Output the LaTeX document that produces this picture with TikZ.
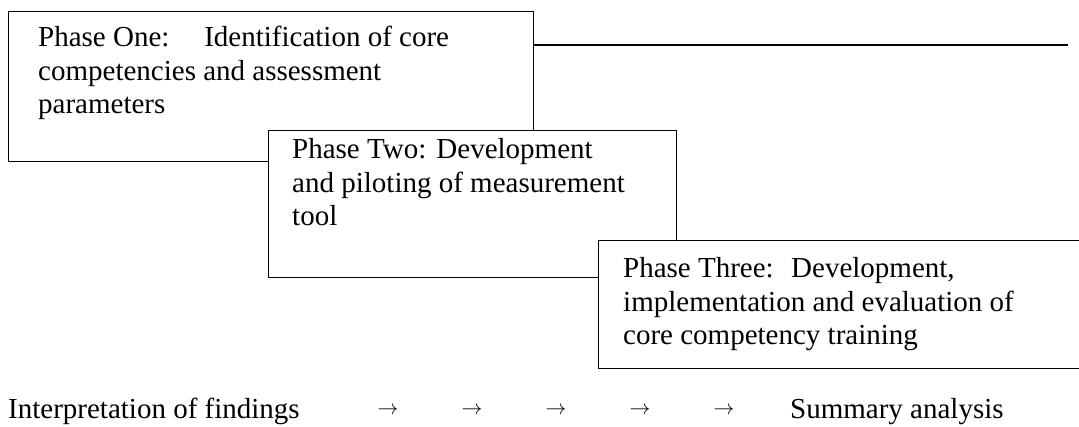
\documentclass[tikz,border=0pt]{standalone}
\usepackage{fontspec}
\setmainfont{Liberation Serif}
\begin{document}
\begin{tikzpicture}[x=1pt,y=-1pt,
  phasebox/.style={draw=black, line width=1.1pt, fill=white, anchor=north west, inner sep=0pt},
  phasetext/.style={anchor=base west, inner sep=0pt, align=left, font=\fontsize{29}{33.5}\selectfont},
  flowtext/.style={anchor=base west, inner sep=0pt, font=\fontsize{29}{33.5}\selectfont},
  flowarrow/.style={anchor=base, inner sep=0pt, font=\fontsize{20}{24}\selectfont}]
\useasboundingbox (0,0) rectangle (1079,427);
\clip (0,0) rectangle (1079,427);
% Phase One
\node[phasebox, minimum width=525pt, minimum height=150pt] (b1) at (8,11) {};
\node[phasetext] (t1) at (38,114) {Phase One:\hspace{1.2em}Identification of core\\competencies and assessment\\parameters};
\coordinate (e1) at (1068,45);
\draw[line width=2.6pt] (b1.east |- e1) -- (e1);
% Phase Two
\node[phasebox, minimum width=408pt, minimum height=147pt] (b2) at (268,130) {};
\node[phasetext] (t2) at (292,226) {Phase Two:\hspace{0.35em}Development\\and piloting of measurement\\tool};
% Phase Three
\node[phasebox, minimum width=500pt, minimum height=128pt] (b3) at (598,240) {};
\node[phasetext] (t3) at (623,345) {Phase Three:\hspace{0.6em}Development,\\implementation and evaluation of\\core competency training};
% bottom flow
\node[flowtext] (f1) at (8,418) {Interpretation of findings};
\node[flowarrow] (a1) at (388,414) {$\rightarrow$};
\node[flowarrow] (a2) at (472,414) {$\rightarrow$};
\node[flowarrow] (a3) at (556,414) {$\rightarrow$};
\node[flowarrow] (a4) at (640,414) {$\rightarrow$};
\node[flowarrow] (a5) at (724,414) {$\rightarrow$};
\node[flowtext] (f2) at (790,418) {Summary analysis};
\end{tikzpicture}
\end{document}
